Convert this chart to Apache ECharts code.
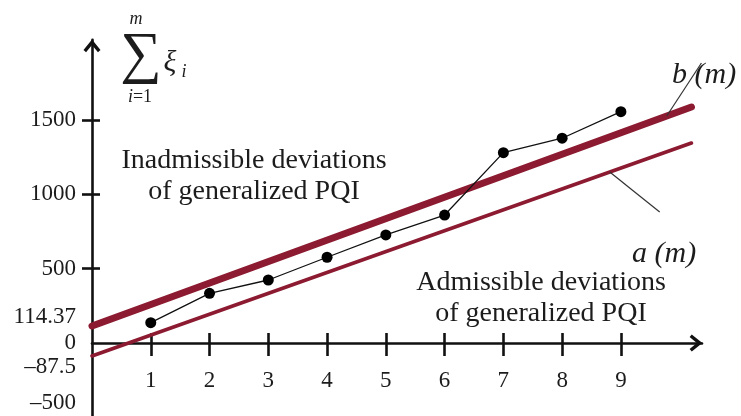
<!DOCTYPE html>
<html>
<head>
<meta charset="utf-8">
<script src="https://cdn.jsdelivr.net/npm/echarts@6/dist/echarts.min.js"></script>
<style>
html,body{margin:0;padding:0;background:#fff;}
#chart{width:741px;height:416px;}
</style>
</head>
<body>
<div id="chart"></div>
<script>
// ---- data ----
const M_VALUES = [1, 2, 3, 4, 5, 6, 7, 8, 9];
const SUM_XI = [137, 334, 424, 577, 727, 861, 1281, 1378, 1557];
const B_LINE_M = [0, 10.2];
const B_LINE_V = [114.37, 1588];
const A_LINE_M = [0, 10.2];
const A_LINE_V = [-87.5, 1346];
const X_TICKS = [1, 2, 3, 4, 5, 6, 7, 8, 9];
const Y_TICKS = [-500, 500, 1000, 1500];
const Y_LABELS = [-500, -87.5, 0, 114.37, 500, 1000, 1500];
const B_LEADER_M = [9.78, 10.37];
const B_LEADER_END_V = 1884;
const A_LEADER_M = [8.81, 9.66];
const A_LEADER_END_V = 881;

// ---- layout ----
const ZERO_Y = 343, PX_PER_V = 0.1486;
const Y_MAX = 2040, Y_MIN = -520;
const X_MAX = 10.38;
const GRID_LEFT = 92, GRID_RIGHT_PX = 702;
const X_AXIS_OFFSET = -(0 - Y_MIN) * PX_PER_V; // put the m axis on the zero level

const lineAt = (ms, vs, m) => vs[0] + (vs[1] - vs[0]) * (m - ms[0]) / (ms[1] - ms[0]);

const SERIF = '"Liberation Serif", "Times New Roman", serif';
const AXIS_COLOR = '#111';
const RED = '#8c1a30';
const ARROW = 'path://M8,0 L16,10 L13.6,12 L8,5.2 L2.4,12 L0,10 Z';

const chart = echarts.init(document.getElementById('chart'), null, {renderer: 'canvas'});

const baseX = {
  type: 'value', min: 0, max: X_MAX, gridIndex: 0,
  splitLine: {show: false}
};
const baseY = {
  type: 'value', min: Y_MIN, max: Y_MAX, gridIndex: 0,
  splitLine: {show: false}
};

const option = {
  animation: false,
  backgroundColor: '#fff',
  grid: {
    left: GRID_LEFT,
    width: GRID_RIGHT_PX - GRID_LEFT,
    top: ZERO_Y - Y_MAX * PX_PER_V,
    height: (Y_MAX - Y_MIN) * PX_PER_V,
    containLabel: false,
    outerBoundsMode: 'none'
  },
  xAxis: [
    Object.assign({}, baseX, {
      position: 'bottom', offset: X_AXIS_OFFSET,
      axisLine: {
        show: true, onZero: false,
        symbol: ['none', ARROW], symbolSize: [17, 14], symbolOffset: [0, -6],
        lineStyle: {color: AXIS_COLOR, width: 2.6, cap: 'round'}
      },
      axisTick: {show: true, inside: false, length: 13, customValues: X_TICKS,
        lineStyle: {color: AXIS_COLOR, width: 2.6}},
      axisLabel: {show: true, customValues: X_TICKS, margin: 26,
        fontFamily: SERIF, fontSize: 23, color: '#1c1c1c'}
    }),
    Object.assign({}, baseX, {
      position: 'bottom', offset: X_AXIS_OFFSET,
      axisLine: {show: false, onZero: false},
      axisTick: {show: true, inside: true, length: 10, customValues: X_TICKS,
        lineStyle: {color: AXIS_COLOR, width: 2.6}},
      axisLabel: {show: false}
    })
  ],
  yAxis: [
    Object.assign({}, baseY, {
      position: 'left',
      axisLine: {
        show: true, onZero: false,
        symbol: ['none', ARROW], symbolSize: [17, 14], symbolOffset: [0, -6],
        lineStyle: {color: AXIS_COLOR, width: 2.6}
      },
      axisTick: {show: true, inside: false, length: 10, customValues: Y_TICKS,
        lineStyle: {color: AXIS_COLOR, width: 2.6}},
      axisLabel: {
        show: true, customValues: Y_LABELS, margin: 16,
        fontFamily: SERIF, fontSize: 23, color: '#1c1c1c',
        formatter: function (v) {
          const txt = (v < 0 ? '\u2013' + Math.abs(v) : String(v));
          if (v === 114.37) return '{up|' + txt + '}';
          if (v === -87.5) return '{dn|' + txt + '}';
          if (v === -500) return '{up2|' + txt + '}';
          return '{n|' + txt + '}';
        },
        rich: {
          n: {},
          up: {padding: [0, 0, 18, 0]},
          dn: {padding: [22, 0, 0, 0]},
          up2: {padding: [0, 0, 28, 0]}
        }
      }
    }),
    Object.assign({}, baseY, {
      position: 'left',
      axisLine: {show: false, onZero: false},
      axisTick: {show: true, inside: true, length: 8, customValues: Y_TICKS,
        lineStyle: {color: AXIS_COLOR, width: 2.6}},
      axisLabel: {show: false}
    })
  ],
  series: [
    {
      name: 'a (m)', type: 'line', xAxisIndex: 0, yAxisIndex: 0,
      data: A_LINE_M.map((m, i) => [m, A_LINE_V[i]]),
      showSymbol: false, symbol: 'none', z: 2,
      lineStyle: {color: RED, width: 3.6, cap: 'round'},
      markLine: {
        silent: true, symbol: 'none', label: {show: false},
        lineStyle: {color: '#333', width: 1.2, type: 'solid'},
        data: [[
          {coord: [A_LEADER_M[0], lineAt(A_LINE_M, A_LINE_V, A_LEADER_M[0])]},
          {coord: [A_LEADER_M[1], A_LEADER_END_V]}
        ]]
      }
    },
    {
      name: 'b (m)', type: 'line', xAxisIndex: 0, yAxisIndex: 0,
      data: B_LINE_M.map((m, i) => [m, B_LINE_V[i]]),
      showSymbol: false, symbol: 'none', z: 3,
      lineStyle: {color: RED, width: 7, cap: 'round'},
      markLine: {
        silent: true, symbol: 'none', label: {show: false},
        lineStyle: {color: '#333', width: 1.2, type: 'solid'},
        data: [[
          {coord: [B_LEADER_M[0], lineAt(B_LINE_M, B_LINE_V, B_LEADER_M[0])]},
          {coord: [B_LEADER_M[1], B_LEADER_END_V]}
        ]]
      }
    },
    {
      name: 'sum', type: 'line', xAxisIndex: 0, yAxisIndex: 0,
      data: M_VALUES.map((m, i) => [m, SUM_XI[i]]),
      symbol: 'circle', symbolSize: 11, showSymbol: true, z: 5,
      itemStyle: {color: '#000'},
      lineStyle: {color: '#111', width: 1.3}
    }
  ],
  graphic: [
    {type: 'text', x: 254, y: 176, z: 10, style: {
      text: 'Inadmissible deviations\nof generalized PQI', align: 'center', verticalAlign: 'middle',
      font: '28px ' + SERIF, lineHeight: 31, fill: '#1c1c1c'}},
    {type: 'text', x: 541, y: 298, z: 10, style: {
      text: 'Admissible deviations\nof generalized PQI', align: 'center', verticalAlign: 'middle',
      font: '28px ' + SERIF, lineHeight: 31, fill: '#1c1c1c'}},
    {type: 'text', x: 672, y: 60, z: 10, style: {
      text: 'b (m)', align: 'left', verticalAlign: 'alphabetic',
      font: 'italic 30px ' + SERIF, fill: '#1c1c1c'}},
    {type: 'text', x: 632, y: 239, z: 10, style: {
      text: 'a (m)', align: 'left', verticalAlign: 'alphabetic',
      font: 'italic 30px ' + SERIF, fill: '#1c1c1c'}},
    // summation label of the y axis
    {type: 'text', x: 136, y: 19, z: 10, style: {
      text: 'm', align: 'center', verticalAlign: 'middle',
      font: 'italic 18px ' + SERIF, fill: '#1c1c1c'}},
    {type: 'text', x: 141, y: 57, z: 10, style: {
      text: '\u2211', align: 'center', verticalAlign: 'middle',
      font: '58px ' + SERIF, fill: '#1c1c1c'}},
    {type: 'text', x: 140, y: 97, z: 10, style: {
      text: '{it|i}{up|=1}', align: 'center', verticalAlign: 'middle',
      rich: {it: {font: 'italic 18px ' + SERIF, fill: '#1c1c1c'},
             up: {font: '18px ' + SERIF, fill: '#1c1c1c'}}}},
    {type: 'text', x: 170, y: 63, z: 10, style: {
      text: '\u03BE', align: 'center', verticalAlign: 'middle',
      font: 'italic 30px ' + SERIF, fill: '#1c1c1c'}},
    {type: 'text', x: 184, y: 72, z: 10, style: {
      text: 'i', align: 'center', verticalAlign: 'middle',
      font: 'italic 18px ' + SERIF, fill: '#1c1c1c'}}
  ]
};
chart.setOption(option);
</script>
</body>
</html>
